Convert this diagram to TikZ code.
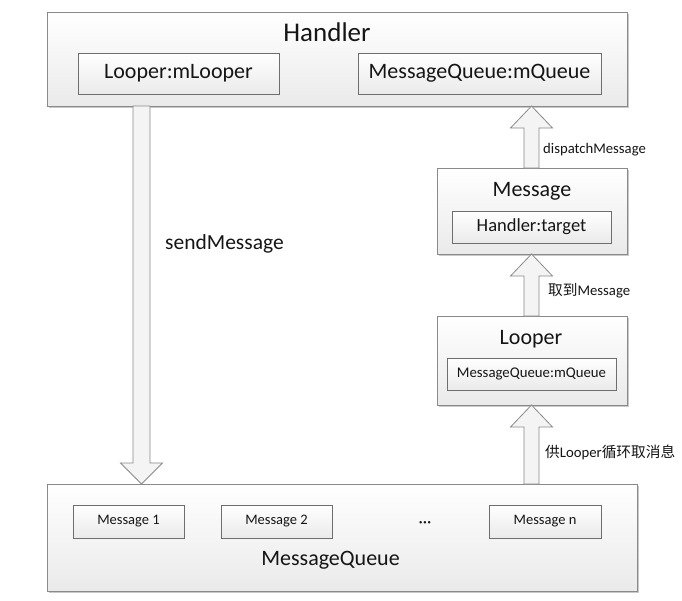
\documentclass[tikz,border=0pt]{standalone}
\usepackage{fontspec}
\setmainfont{Carlito}
\newfontfamily\cjk{Noto Sans CJK SC}
\usetikzlibrary{shadows,calc}
\definecolor{boxline}{HTML}{8A8A8A}
\definecolor{innerline}{HTML}{6E6E6E}
\definecolor{boxbot}{HTML}{EAEAEA}
\definecolor{txt}{HTML}{151515}
\definecolor{arrfill}{HTML}{F4F4F4}
\newcommand\fs[1]{\fontsize{#1}{#1}\selectfont}
\newcommand\myblkup[5]{% x, from-anchor (bottom), to-anchor (top), shaft half width, head half width
  \draw[blk] let \p1=(#2), \p2=(#3) in
    (#1pt-#4pt,\y1) -- (#1pt-#4pt,\y2-22pt) -- (#1pt-#5pt,\y2-22pt) -- (#1pt,\y2)
    -- (#1pt+#5pt,\y2-22pt) -- (#1pt+#4pt,\y2-22pt) -- (#1pt+#4pt,\y1) -- cycle;}
\begin{document}
\begin{tikzpicture}[x=1pt,y=-1pt,
  bigbox/.style={draw=boxline, line width=0.9pt, top color=white, bottom color=boxbot,
    drop shadow={shadow xshift=1.5pt, shadow yshift=-1.5pt, opacity=0.35, fill=black!60},
    inner sep=0pt, outer sep=0pt},
  smallbox/.style={draw=innerline, line width=0.9pt, top color=white, bottom color=boxbot,
    drop shadow={shadow xshift=1.2pt, shadow yshift=-1.2pt, opacity=0.3, fill=black!60},
    inner sep=0pt, outer sep=0pt, text=txt},
  lbl/.style={text=txt, inner sep=0pt},
  blk/.style={draw=boxline, line width=0.8pt, fill=arrfill, line join=miter}]
\useasboundingbox[fill=white] (0,0) rectangle (682,600);

% Handler
\node[bigbox, minimum width=580pt, minimum height=94pt] (handler) at (337,59) {};
\node[lbl, anchor=base, font=\fs{27}] (hTitle) at (327,41) {Handler};
\node[smallbox, minimum width=201pt, minimum height=41pt, font=\fs{22}] (hLooper) at (178.5,73.5) {Looper:mLooper};
\node[smallbox, minimum width=243pt, minimum height=41pt, font=\fs{22}] (hQueue) at (479.5,73.5) {MessageQueue:mQueue};

% Message
\node[bigbox, minimum width=190pt, minimum height=86pt] (msg) at (532,211) {};
\node[lbl, anchor=base, font=\fs{22}] (msgTitle) at (532,196) {Message};
\node[smallbox, minimum width=159pt, minimum height=32pt, font=\fs{18.5}] (msgTarget) at (531.5,227) {Handler:target};

% Looper
\node[bigbox, minimum width=190pt, minimum height=89pt] (looper) at (532,360.5) {};
\node[lbl, anchor=base, font=\fs{22}] (lTitle) at (531,344) {Looper};
\node[smallbox, minimum width=169pt, minimum height=32pt, font=\fs{14.8}] (lQueue) at (531.5,374) {MessageQueue:mQueue};

% MessageQueue
\node[bigbox, minimum width=590pt, minimum height=107pt] (mq) at (342,537.5) {};
\node[smallbox, minimum width=111pt, minimum height=33pt, font=\fs{14.5}] (m1) at (128.5,521.5) {Message 1};
\node[smallbox, minimum width=111pt, minimum height=33pt, font=\fs{14.5}] (m2) at (276.5,521.5) {Message 2};
\node[lbl, anchor=base, font=\fs{17}] (dots) at (425,527) {···};
\node[smallbox, minimum width=112pt, minimum height=33pt, font=\fs{14.5}] (mn) at (545,521.5) {Message n};
\node[lbl, anchor=base, font=\fs{22}] (mqTitle) at (330.5,565) {MessageQueue};

% sendMessage arrow (down)
\draw[blk] let \p1=(handler.south), \p2=(mq.north) in
  (141.5pt-8.5pt,\y1) -- (141.5pt-8.5pt,\y2+21pt) -- (141.5pt-21pt,\y2+21pt) -- (141.5pt,\y2)
  -- (141.5pt+21pt,\y2+21pt) -- (141.5pt+8.5pt,\y2+21pt) -- (141.5pt+8.5pt,\y1) -- cycle;
\node[lbl, anchor=base west, font=\fs{21.5}] (lSend) at (165,249) {sendMessage};

% up arrows
\myblkup{531.5}{msg.north}{handler.south}{7.5}{21}
\myblkup{531.5}{looper.north}{msg.south}{7.5}{21}
\myblkup{531.5}{mq.north}{looper.south}{7.5}{21}

\node[lbl, anchor=base west, font=\fs{14.7}] (lDispatch) at (543,153) {dispatchMessage};
\node[lbl, anchor=base west, font=\fs{14.7}] (lGet) at (548,295) {{\cjk 取到}Message};
\node[lbl, anchor=base west, font=\fs{14.7}] (lLoop) at (545,457) {{\cjk 供}Looper{\cjk 循环取消息}};
\end{tikzpicture}
\end{document}
